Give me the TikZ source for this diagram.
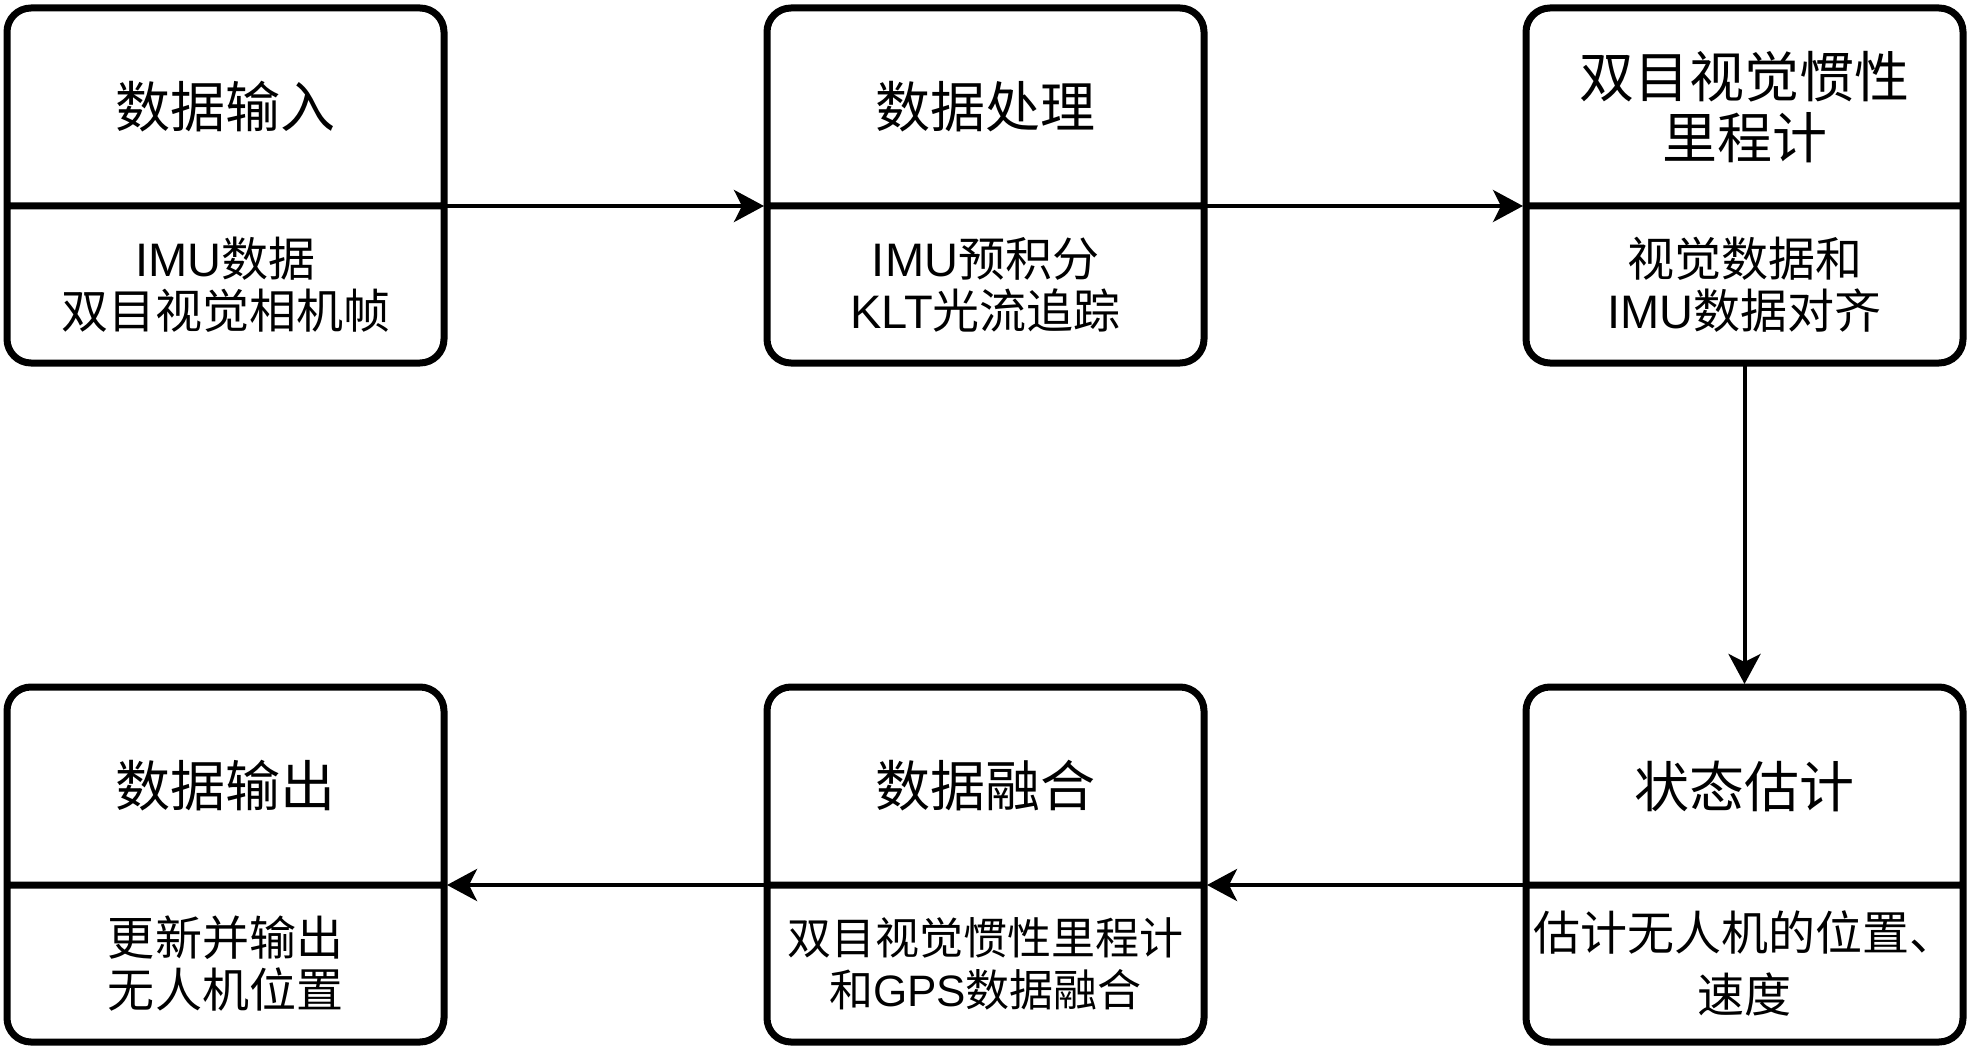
\documentclass[tikz,border=0pt]{standalone}
\usepackage{fontspec}
\setmainfont{Noto Sans CJK SC}
\newfontfamily\latinfont{Liberation Sans}
\usetikzlibrary{shapes.multipart,arrows.meta}

\newcommand{\stagehead}[2][30.5pt]{\parbox[c][95.5pt][c]{218.5pt}{\centering\fontsize{27.5pt}{#1}\selectfont #2}}
\newcommand{\stagebody}[2][23.5pt]{\parbox[c][75pt][c]{218.5pt}{\centering\fontsize{#1}{26pt}\selectfont #2}}

\tikzset{
  stage/.style={rectangle split, rectangle split parts=2, draw, line width=3.5pt,
    rounded corners=12pt, inner sep=0pt, outer sep=0pt, anchor=north west},
  flow/.style={line width=2pt, -{Stealth[length=15pt,width=16pt,inset=4pt]}, shorten >=1.5pt}
}

\begin{document}
\begin{tikzpicture}[x=0.5pt,y=-0.5pt]
\useasboundingbox (0,0) rectangle (1968,1048);
\node[stage] (input) at (7,8) {\stagehead{数据输入}
  \nodepart{two}\stagebody{{\latinfont IMU}数据\\双目视觉相机帧}};
\node[stage] (proc) at (767,8) {\stagehead{数据处理}
  \nodepart{two}\stagebody{{\latinfont IMU}预积分\\{\latinfont KLT}光流追踪}};
\node[stage] (vio) at (1526,8) {\stagehead{双目视觉惯性\\里程计}
  \nodepart{two}\stagebody{视觉数据和\\{\latinfont IMU}数据对齐}};
\node[stage] (est) at (1526,687) {\stagehead{状态估计}
  \nodepart{two}\parbox[c][75pt][c]{218.5pt}{\centering\fontsize{23.5pt}{31pt}\selectfont 估计无人机的位置、\\速度}};
\node[stage] (fuse) at (767,687) {\stagehead{数据融合}
  \nodepart{two}\stagebody[22pt]{双目视觉惯性里程计\\和{\latinfont GPS}数据融合}};
\node[stage] (output) at (7,687) {\stagehead{数据输出}
  \nodepart{two}\stagebody{更新并输出\\无人机位置}};

\draw[flow] (input.one split east) -- (proc.one split west);
\draw[flow] (proc.one split east) -- (vio.one split west);
\draw[flow] (vio.south) -- (est.north);
\draw[flow] (est.one split west) -- (fuse.one split east);
\draw[flow] (fuse.one split west) -- (output.one split east);
\end{tikzpicture}
\end{document}
